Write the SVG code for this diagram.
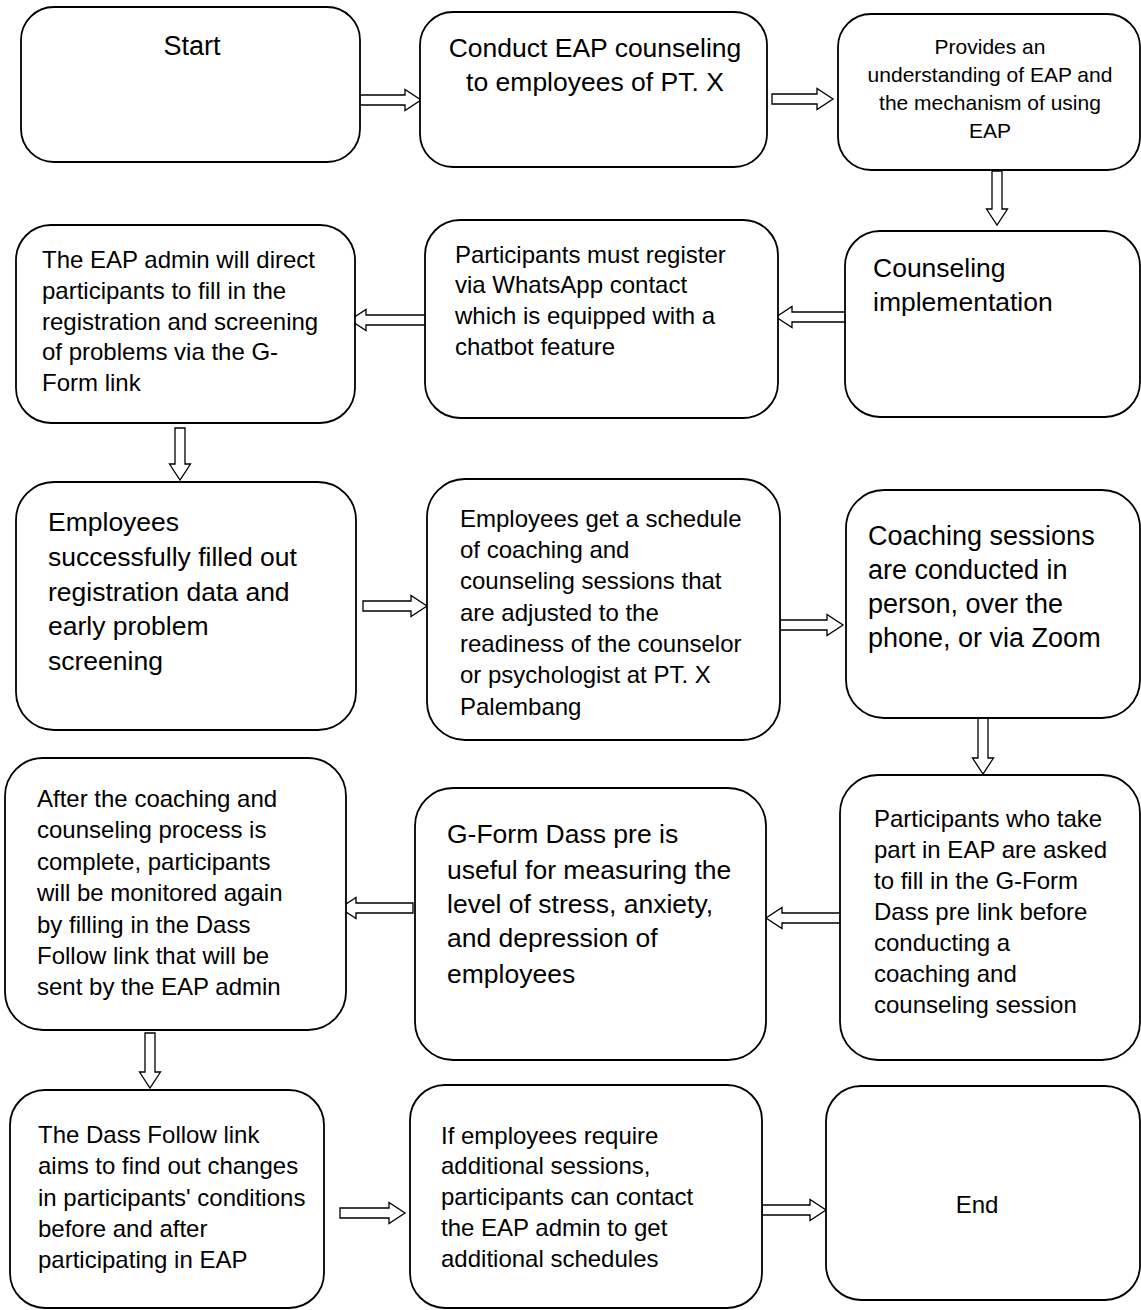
<svg xmlns="http://www.w3.org/2000/svg" width="1141" height="1310" viewBox="0 0 1141 1310">
<style>
.box{fill:#fff;stroke:#000;stroke-width:1.8}
.arr{fill:#fff;stroke:#000;stroke-width:1.3;stroke-linejoin:miter}
text{font-family:"Liberation Sans",Arial,Helvetica,sans-serif;fill:#000}
.t24{font-size:24px}
.t26{font-size:26.5px}
.t27{font-size:27px}
.t21{font-size:21px}
.c{text-anchor:middle}
</style>
<rect width="1141" height="1310" fill="#fff"/>
<g id="connectors">
<path class="arr" d="M358,95 H405 V89.5 L421,100 L405,110.5 V105 H358 Z"/>
<path class="arr" d="M772,94 H817 V88.5 L833,99 L817,109.5 V104 H772 Z"/>
<path class="arr" d="M992,171 V209 H986.5 L997,225 L1007.5,209 H1002 V171 Z"/>
<path class="arr" d="M848,312 H792 V306.5 L776,317 L792,327.5 V322 H848 Z"/>
<path class="arr" d="M427,315 H366 V309.5 L350,320 L366,330.5 V325 H427 Z"/>
<path class="arr" d="M175,428 V464 H169.5 L180,480 L190.5,464 H185 V428 Z"/>
<path class="arr" d="M363,601 H411 V595.5 L427,606 L411,616.5 V611 H363 Z"/>
<path class="arr" d="M780,620 H827 V614.5 L843,625 L827,635.5 V630 H780 Z"/>
<path class="arr" d="M978,718 V758 H972.5 L983,774 L993.5,758 H988 V718 Z"/>
<path class="arr" d="M841,913 H782 V907.5 L766,918 L782,928.5 V923 H841 Z"/>
<path class="arr" d="M413,903 H356 V897.5 L340,908 L356,918.5 V913 H413 Z"/>
<path class="arr" d="M145,1033 V1072 H139.5 L150,1088 L160.5,1072 H155 V1033 Z"/>
<path class="arr" d="M340,1208 H389 V1202.5 L405,1213 L389,1223.5 V1218 H340 Z"/>
<path class="arr" d="M762,1205 H810 V1199.5 L826,1210 L810,1220.5 V1215 H762 Z"/>
</g>
<g id="n1"><rect class="box" x="21" y="7" width="339" height="155" rx="33"/>
<text class="t27 c" x="192" y="55">Start</text></g>
<g id="n2"><rect class="box" x="420" y="12" width="347" height="155" rx="33"/>
<text class="t26 c" x="595" y="57">Conduct EAP counseling</text>
<text class="t26 c" x="595" y="91">to employees of PT. X</text></g>
<g id="n3"><rect class="box" x="838" y="14" width="302" height="156" rx="33"/>
<text class="t21 c" x="990" y="54">Provides an</text>
<text class="t21 c" x="990" y="82">understanding of EAP and</text>
<text class="t21 c" x="990" y="110">the mechanism of using</text>
<text class="t21 c" x="990" y="138">EAP</text></g>
<g id="n4"><rect class="box" x="16" y="225" width="339" height="198" rx="35"/>
<text class="t24" x="42" y="268">The EAP admin will direct</text>
<text class="t24" x="42" y="299">participants to fill in the</text>
<text class="t24" x="42" y="330">registration and screening</text>
<text class="t24" x="42" y="360">of problems via the G-</text>
<text class="t24" x="42" y="391">Form link</text></g>
<g id="n5"><rect class="box" x="425" y="220" width="353" height="198" rx="35"/>
<text class="t24" x="455" y="263">Participants must register</text>
<text class="t24" x="455" y="293">via WhatsApp contact</text>
<text class="t24" x="455" y="324">which is equipped with a</text>
<text class="t24" x="455" y="355">chatbot feature</text></g>
<g id="n6"><rect class="box" x="845" y="231" width="295" height="186" rx="35"/>
<text class="t26" x="873" y="277">Counseling</text>
<text class="t26" x="873" y="311">implementation</text></g>
<g id="n7"><rect class="box" x="16" y="482" width="340" height="248" rx="38"/>
<text class="t26" x="48" y="531">Employees</text>
<text class="t26" x="48" y="566">successfully filled out</text>
<text class="t26" x="48" y="601">registration data and</text>
<text class="t26" x="48" y="635">early problem</text>
<text class="t26" x="48" y="670">screening</text></g>
<g id="n8"><rect class="box" x="427" y="479" width="353" height="261" rx="38"/>
<text class="t24" x="460" y="527">Employees get a schedule</text>
<text class="t24" x="460" y="558">of coaching and</text>
<text class="t24" x="460" y="589">counseling sessions that</text>
<text class="t24" x="460" y="621">are adjusted to the</text>
<text class="t24" x="460" y="652">readiness of the counselor</text>
<text class="t24" x="460" y="683">or psychologist at PT. X</text>
<text class="t24" x="460" y="715">Palembang</text></g>
<g id="n9"><rect class="box" x="846" y="490" width="294" height="228" rx="38"/>
<text class="t27" x="868" y="545">Coaching sessions</text>
<text class="t27" x="868" y="579">are conducted in</text>
<text class="t27" x="868" y="613">person, over the</text>
<text class="t27" x="868" y="647">phone, or via Zoom</text></g>
<g id="n10"><rect class="box" x="5" y="758" width="341" height="272" rx="38"/>
<text class="t24" x="37" y="807">After the coaching and</text>
<text class="t24" x="37" y="838">counseling process is</text>
<text class="t24" x="37" y="870">complete, participants</text>
<text class="t24" x="37" y="901">will be monitored again</text>
<text class="t24" x="37" y="933">by filling in the Dass</text>
<text class="t24" x="37" y="964">Follow link that will be</text>
<text class="t24" x="37" y="995">sent by the EAP admin</text></g>
<g id="n11"><rect class="box" x="415" y="788" width="351" height="272" rx="38"/>
<text class="t26" x="447" y="843">G-Form Dass pre is</text>
<text class="t26" x="447" y="879">useful for measuring the</text>
<text class="t26" x="447" y="913">level of stress, anxiety,</text>
<text class="t26" x="447" y="947">and depression of</text>
<text class="t26" x="447" y="983">employees</text></g>
<g id="n12"><rect class="box" x="840" y="775" width="300" height="285" rx="38"/>
<text class="t24" x="874" y="827">Participants who take</text>
<text class="t24" x="874" y="858">part in EAP are asked</text>
<text class="t24" x="874" y="889">to fill in the G-Form</text>
<text class="t24" x="874" y="920">Dass pre link before</text>
<text class="t24" x="874" y="951">conducting a</text>
<text class="t24" x="874" y="982">coaching and</text>
<text class="t24" x="874" y="1013">counseling session</text></g>
<g id="n13"><rect class="box" x="10" y="1090" width="314" height="218" rx="35"/>
<text class="t24" x="38" y="1143">The Dass Follow link</text>
<text class="t24" x="38" y="1174">aims to find out changes</text>
<text class="t24" x="38" y="1206">in participants' conditions</text>
<text class="t24" x="38" y="1237">before and after</text>
<text class="t24" x="38" y="1268">participating in EAP</text></g>
<g id="n14"><rect class="box" x="410" y="1085" width="352" height="223" rx="35"/>
<text class="t24" x="441" y="1144">If employees require</text>
<text class="t24" x="441" y="1174">additional sessions,</text>
<text class="t24" x="441" y="1205">participants can contact</text>
<text class="t24" x="441" y="1236">the EAP admin to get</text>
<text class="t24" x="441" y="1267">additional schedules</text></g>
<g id="n15"><rect class="box" x="826" y="1086" width="314" height="214" rx="35"/>
<text class="t24 c" x="977" y="1213">End</text></g>
</svg>
